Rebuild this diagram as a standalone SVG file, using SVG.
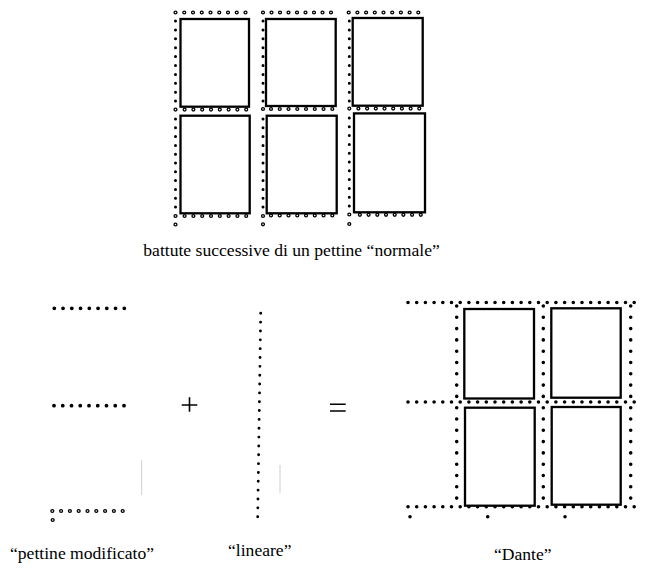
<svg xmlns="http://www.w3.org/2000/svg" width="648" height="577" viewBox="0 0 648 577">
<style>
.bg{fill:#fff}
.stamp{fill:#fff;stroke:#000;stroke-width:2.3}
.dot{fill:none;stroke:#000;stroke-linecap:round}
.ringo{fill:none;stroke:#000;stroke-width:4.2;stroke-linecap:round}
.ringi{fill:none;stroke:#fff;stroke-width:1.6;stroke-linecap:round}
.sym{stroke:#000;stroke-width:1.6;fill:none}
.faint{stroke:#c8c8c8;stroke-width:0.9;fill:none}
.lbl{font-family:"Liberation Serif","Times New Roman",serif;font-size:17.6px;fill:#000}
</style>
<rect class="bg" width="648" height="577"/>

<!-- top: successive strikes of a normal comb -->
<g id="normal-comb">
  <g id="col1">
    <rect class="stamp" x="180.5" y="19" width="68.5" height="87.7"/>
    <rect class="stamp" x="180.5" y="115.7" width="69.2" height="97.6"/>
    <path class="ringo" stroke-dasharray="0 8.75" d="M175.5 12.5H245.9"/>
    <path class="ringi" stroke-dasharray="0 8.75" d="M175.5 12.5H245.9"/>
    <path class="dot" stroke-width="3" stroke-dasharray="0 8.9" d="M175.5 21V101.5"/>
    <path class="dot" stroke-width="3" stroke-dasharray="0 8.8" d="M175.5 119V207.4"/>
    <path class="ringo" stroke-dasharray="0 8.8" d="M184.6 109.6H246.6M184.6 216H246.6"/>
    <path class="ringi" stroke-dasharray="0 8.8" d="M184.6 109.6H246.6M184.6 216H246.6"/>
    <path class="ringo" stroke-dasharray="0 100" d="M175.5 109.6h0.1M175.5 216h0.1M175.5 224.5h0.1"/>
    <path class="ringi" stroke-dasharray="0 100" d="M175.5 109.6h0.1M175.5 216h0.1M175.5 224.5h0.1"/>
  </g>
  <g id="col2">
    <rect class="stamp" x="266" y="19" width="69.7" height="87"/>
    <rect class="stamp" x="266.7" y="115.7" width="70" height="97.6"/>
    <path class="ringo" stroke-dasharray="0 8.5" d="M263 12.5H331.4"/>
    <path class="ringi" stroke-dasharray="0 8.5" d="M263 12.5H331.4"/>
    <path class="dot" stroke-width="3" stroke-dasharray="0 8.9" d="M263 21V101.5"/>
    <path class="dot" stroke-width="3" stroke-dasharray="0 8.8" d="M263 119V207.4"/>
    <path class="ringo" stroke-dasharray="0 8.76" d="M271 109H332.7M271 215.5H332.7"/>
    <path class="ringi" stroke-dasharray="0 8.76" d="M271 109H332.7M271 215.5H332.7"/>
    <path class="ringo" stroke-dasharray="0 100" d="M263 109h0.1M263 216h0.1M263 224.3h0.1"/>
    <path class="ringi" stroke-dasharray="0 100" d="M263 109h0.1M263 216h0.1M263 224.3h0.1"/>
  </g>
  <g id="col3">
    <rect class="stamp" x="352.7" y="18" width="70" height="87.7"/>
    <rect class="stamp" x="354" y="113.4" width="71" height="98.9"/>
    <path class="ringo" stroke-dasharray="0 8.7" d="M348.7 12.5H418.7"/>
    <path class="ringi" stroke-dasharray="0 8.7" d="M348.7 12.5H418.7"/>
    <path class="dot" stroke-width="3" stroke-dasharray="0 8.9" d="M349.3 21V101.5"/>
    <path class="dot" stroke-width="3" stroke-dasharray="0 8.8" d="M349.3 118V206.4"/>
    <path class="ringo" stroke-dasharray="0 8.7" d="M358.4 108.6H419.7M359.9 214.8H421.2"/>
    <path class="ringi" stroke-dasharray="0 8.7" d="M358.4 108.6H419.7M359.9 214.8H421.2"/>
    <path class="ringo" stroke-dasharray="0 100" d="M349.3 108.6h0.1M349.3 214.5h0.1M349.3 224h0.1"/>
    <path class="ringi" stroke-dasharray="0 100" d="M349.3 108.6h0.1M349.3 214.5h0.1M349.3 224h0.1"/>
  </g>
  <text class="lbl" x="143.3" y="255.5">battute successive di un pettine “normale”</text>
</g>

<!-- modified comb -->
<g id="pettine-modificato">
  <path class="dot" stroke-width="3.8" stroke-dasharray="0 8.75" d="M54.3 308.3H124.7M54 405.7H124.4"/>
  <path class="ringo" stroke-width="4" stroke-dasharray="0 8.8" d="M52.3 511H123.1"/>
  <path class="ringi" stroke-width="1.4" stroke-dasharray="0 8.8" d="M52.3 511H123.1"/>
  <path class="ringo" stroke-width="4" stroke-dasharray="0 100" d="M52.7 520h0.1"/>
  <path class="ringi" stroke-width="1.4" stroke-dasharray="0 100" d="M52.7 520h0.1"/>
  <path class="faint" d="M141.7 460V495"/>
  <text class="lbl" x="10" y="559">“pettine modificato”</text>
</g>

<g id="plus">
  <path class="sym" d="M181.7 405H197.3M189.5 397.3V411.7"/>
</g>

<!-- linear -->
<g id="lineare">
  <path class="dot" stroke-width="2.9" stroke-dasharray="0 8.844" d="M260.7 313.3L257.69 517.1"/>
  <path class="faint" d="M280 465V493"/>
  <text class="lbl" x="228" y="556">“lineare”</text>
</g>

<g id="equals">
  <path class="sym" d="M330 404.3H345.7M330 411H345.7"/>
</g>

<!-- Dante -->
<g id="dante">
  <rect class="stamp" x="464.3" y="309" width="69.7" height="89.5"/>
  <rect class="stamp" x="551.3" y="308.3" width="69.4" height="89.4"/>
  <rect class="stamp" x="465" y="407.7" width="69.7" height="98"/>
  <rect class="stamp" x="551.7" y="407" width="69" height="97.7"/>
  <path class="dot" stroke-width="3.6" stroke-dasharray="0 8.7" d="M408 302.5H634.6M408 402H634.6M408 506.7H634.6"/>
  <path class="dot" stroke-width="3.6" stroke-dasharray="0 11.3" d="M456.7 306V498.5M543.3 306V498.5M630.7 306V498.5"/>
  <path class="dot" stroke-width="3.6" stroke-dasharray="0 100" d="M410 516.7h0.1M487.7 516.7h0.1M565 516.7h0.1"/>
  <text class="lbl" x="494" y="560">“Dante”</text>
</g>
</svg>
